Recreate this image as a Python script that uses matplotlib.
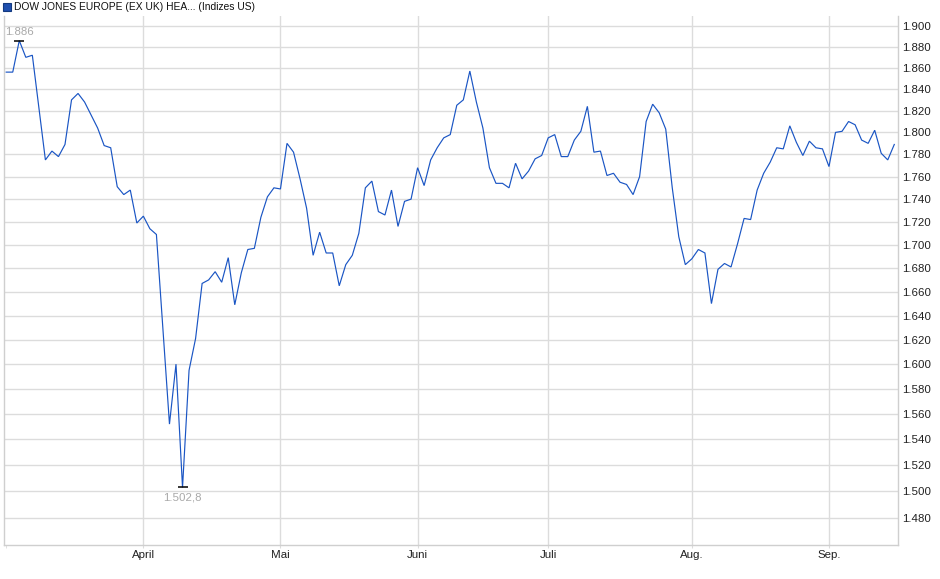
import matplotlib
matplotlib.use("Agg")
import matplotlib.pyplot as plt
import numpy as np
import pandas as pd
from matplotlib.ticker import FixedLocator, NullLocator
from matplotlib.patches import Rectangle

# ---------------- data ----------------
title = "DOW JONES EUROPE (EX UK) HEA... (Indizes US)"
start_date = "2025-03-03"
us_holidays = ["2025-04-18", "2025-05-26", "2025-06-19", "2025-07-04", "2025-09-01"]

values = [
    1856, 1856, 1886, 1870, 1872, 1823, 1775, 1783, 1778, 1789,
    1830, 1836, 1828, 1816, 1804, 1788, 1786, 1751, 1744, 1748,
    1719, 1725, 1714, 1709, 1628, 1552, 1600, 1502.8, 1595, 1621,
    1667, 1670, 1677, 1668, 1689, 1649, 1676, 1696, 1697, 1724,
    1742, 1750, 1749, 1790, 1782, 1758, 1732, 1691, 1711, 1693,
    1693, 1665, 1683, 1691, 1710, 1750, 1756, 1729, 1726, 1748,
    1716, 1738, 1740, 1768, 1752, 1775, 1786, 1795, 1798, 1825,
    1830, 1857, 1828, 1804, 1768, 1754, 1754, 1750, 1772, 1758,
    1765, 1776, 1779, 1795, 1798, 1778, 1778, 1793, 1801, 1824,
    1782, 1783, 1761, 1763, 1755, 1753, 1744, 1760, 1810, 1826,
    1818, 1803, 1750, 1707, 1683, 1688, 1696, 1693, 1650, 1679,
    1684, 1681, 1701, 1723, 1722, 1748, 1763, 1773, 1786, 1785,
    1806, 1791, 1779, 1792, 1786, 1785, 1769, 1800, 1801, 1810,
    1807, 1793, 1790, 1802, 1781, 1775, 1789,
]

month_labels = {4: "April", 5: "Mai", 6: "Juni", 7: "Juli", 8: "Aug.", 9: "Sep."}
y_tick_values = [1480, 1500, 1520, 1540, 1560, 1580, 1600, 1620, 1640, 1660, 1680,
                 1700, 1720, 1740, 1760, 1780, 1800, 1820, 1840, 1860, 1880, 1900]


def de_num(v, decimals=0):
    s = f"{v:,.{decimals}f}"
    return s.replace(",", "X").replace(".", ",").replace("X", ".")


# ---------------- figure ----------------
plt.rcParams["font.family"] = ["Liberation Sans", "DejaVu Sans"]
W, H = 940, 579
fig = plt.figure(figsize=(W / 100, H / 100), dpi=100)
left, right, top, bottom = 4, 898, 16, 545
ax = fig.add_axes([left / W, 1 - bottom / H, (right - left) / W, (bottom - top) / H])

bday = pd.offsets.CustomBusinessDay(holidays=us_holidays)
dates = pd.date_range(start_date, periods=len(values), freq=bday)
x = np.arange(len(values))

grid_c = "#dcdcdc"
line_c = "#1a55c4"

ax.plot(x, values, color=line_c, lw=0.85, solid_joinstyle="miter", zorder=3)

ax.set_yscale("log")
ax.set_ylim(1459.5, 1909.7)
ax.set_xlim(-0.34, 136.57)

ax.yaxis.set_major_locator(FixedLocator(y_tick_values))
ax.yaxis.set_minor_locator(NullLocator())
ax.set_yticklabels([de_num(v) for v in y_tick_values])
ax.yaxis.tick_right()
ax.tick_params(axis="y", which="both", length=0, pad=3, labelsize=8.25, labelcolor="#222222")

# month ticks at first trading day of each month
month_idx = []
month_lab = []
prev = dates[0].month
for i, d in enumerate(dates):
    if d.month != prev:
        month_idx.append(i)
        month_lab.append(month_labels.get(d.month, d.strftime("%b")))
        prev = d.month
ax.xaxis.set_major_locator(FixedLocator(month_idx))
ax.set_xticklabels(month_lab)
ax.xaxis.set_minor_locator(FixedLocator([0]))
ax.tick_params(axis="x", which="both", length=2.5, color=grid_c, pad=1, labelsize=8.25,
               labelcolor="#222222")

ax.grid(True, which="major", color=grid_c, lw=1.0, zorder=0)
for s in ax.spines.values():
    s.set_color("#cfcfcf")
    s.set_linewidth(1.0)
ax.spines["top"].set_visible(False)

# max / min annotations
vals = np.array(values, dtype=float)
imax = int(np.argmax(vals))
imin = int(np.argmin(vals))
ax.plot([imax, imin], [vals[imax], vals[imin]], ls="none", marker="_", ms=7,
        mew=1.1, color="black", zorder=4)


def fmt_ext(v):
    return de_num(v, 0) if float(v).is_integer() else de_num(v, 1)


ax.annotate(fmt_ext(vals[imax]), (imax, vals[imax]), xytext=(0, 2.5),
            textcoords="offset points", ha="center", va="bottom",
            fontsize=8.25, color="#a9a9a9", zorder=5)
ax.annotate(fmt_ext(vals[imin]), (imin, vals[imin]), xytext=(0, -3.5),
            textcoords="offset points", ha="center", va="top",
            fontsize=8.25, color="#a9a9a9", zorder=5)

# legend / title
fig.patches.append(Rectangle((3 / W, 1 - 11 / H), 8 / W, 8 / H, transform=fig.transFigure,
                             facecolor="#1f4fae", edgecolor="#133a80", lw=0.8))
fig.text(14 / W, 1 - 7 / H, title, ha="left", va="center", fontsize=7.4, color="#111111")

fig.savefig("out.png", dpi=100)
